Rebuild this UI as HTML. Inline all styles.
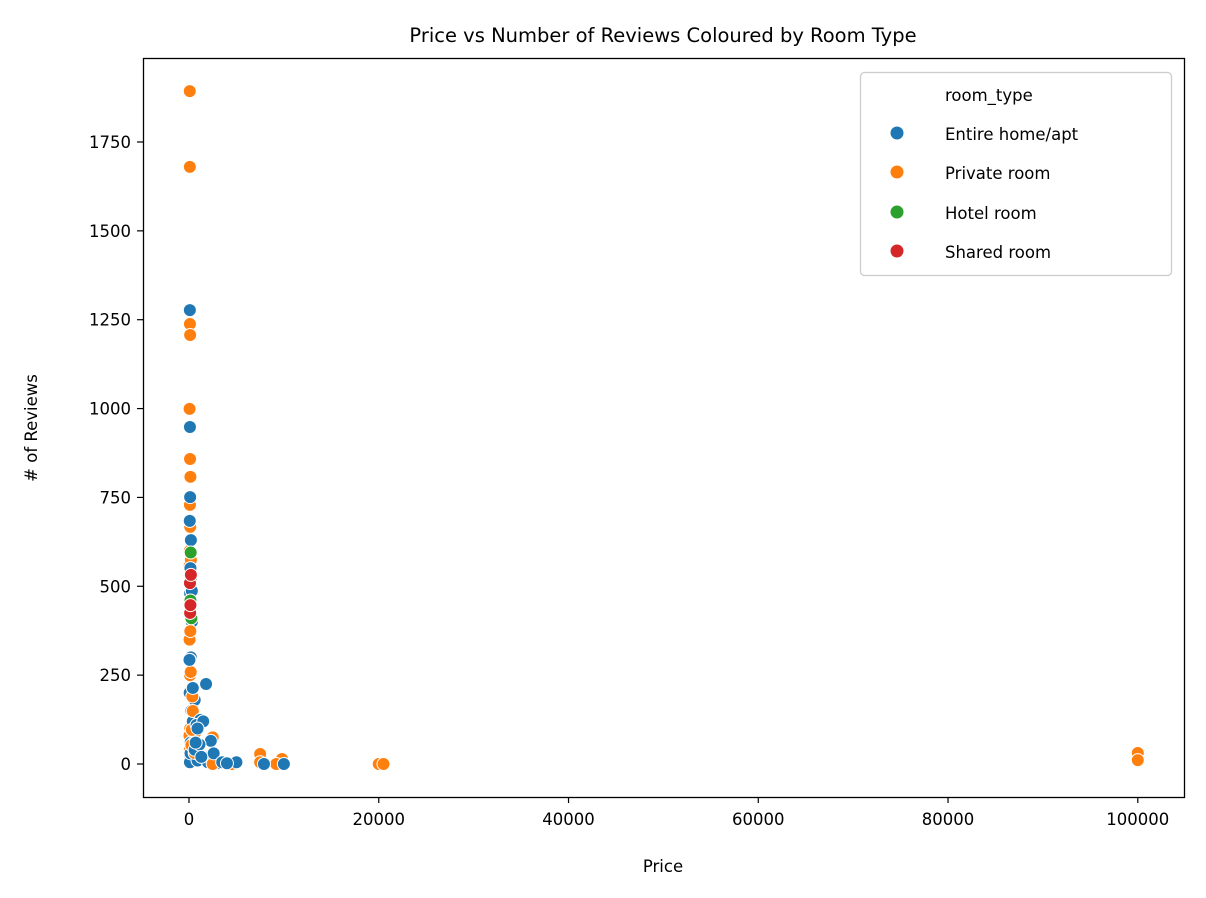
<!DOCTYPE html>
<html><head><meta charset="utf-8"><style>
body{margin:0;background:#fff;}
svg{display:block;font-family:"DejaVu Sans","Liberation Sans",sans-serif;}
</style></head><body>
<svg id="chart" width="1206" height="898">
<text x="663" y="42" font-size="19.5" text-anchor="middle">Price vs Number of Reviews Coloured by Room Type</text>
<g id="marks"></g>
<g id="axes"></g>
<rect x="143.5" y="58.5" width="1041" height="739" fill="none" stroke="#000" stroke-width="1.3"/>
<text x="663" y="872" font-size="16.5" text-anchor="middle">Price</text>
<text transform="translate(37,428) rotate(-90)" font-size="16.5" text-anchor="middle"># of Reviews</text>
<g>
<rect x="860.5" y="72.5" width="311" height="203" rx="4" fill="#fff" fill-opacity="0.8" stroke="#ccc" stroke-width="1.3"/>
<text x="945" y="101" font-size="16.5">room_type</text>
<circle cx="897" cy="133" r="6.5" fill="#1f77b4"/>
<text x="945" y="140" font-size="16.5">Entire home/apt</text>
<circle cx="897" cy="172" r="6.5" fill="#ff7f0e"/>
<text x="945" y="179" font-size="16.5">Private room</text>
<circle cx="897" cy="212" r="6.5" fill="#2ca02c"/>
<text x="945" y="219" font-size="16.5">Hotel room</text>
<circle cx="897" cy="251" r="6.5" fill="#d62728"/>
<text x="945" y="258" font-size="16.5">Shared room</text>
</g>
</svg>
<script>
const xTicks=[0,20000,40000,60000,80000,100000];
const yTicks=[0,250,500,750,1000,1250,1500,1750];
const prices=[100,120,80,150,90,200,60,300,110,70,250,130,400,50,180,90,140,220,100,160,500,800,1000,1200,1500,900,2000,3000,600,700,
 80,90,100,120,60,110,150,100,130,200,70,140,95,180,2500,7500,7500,9800,9200,20000,20500,100000,100000,2500,4500,300,250,600,400,350,
 90,100,120,80,200,150,300,1800,2300,1200,5000,7900,10000,50,600,1100,800,1500,400,2600,3500,4000,700,900,1300,
 150,200,120,250,180,
 100,120,150,200];
const reviews=[520,480,560,450,600,300,350,400,250,200,150,100,120,80,60,40,20,10,5,30,60,100,50,120,20,10,5,2,180,90,
 1893,1680,1238,1207,999,858,808,729,667,574,450,374,293,259,0,28,5,14,0,0,0,31,11,75,0,96,53,31,149,190,
 1277,948,751,684,630,551,487,225,65,124,5,0,0,293,40,55,110,120,214,30,5,2,60,100,20,
 460,523,425,410,595,
 509,425,447,532];
const types=['E','E','P','E','P','E','P','E','P','E','E','P','E','P','E','P','E','P','E','E','E','E','E','E','E','E','E','E','E','P',
 'P','P','P','P','P','P','P','P','P','P','P','P','P','P','P','P','P','P','P','P','P','P','P','P','P','P','P','P','P','P',
 'E','E','E','E','E','E','E','E','E','E','E','E','E','E','E','E','E','E','E','E','E','E','E','E','E',
 'H','H','H','H','H',
 'S','S','S','S'];
const colors={E:'#1f77b4',P:'#ff7f0e',H:'#2ca02c',S:'#d62728'};
const xs=v=>189+v*0.009488;
const ys=v=>764-v*0.35543;
const NS='http://www.w3.org/2000/svg';
const marks=document.getElementById('marks');
for(let i=0;i<prices.length;i++){
 const c=document.createElementNS(NS,'circle');
 c.setAttribute('cx',xs(prices[i]));c.setAttribute('cy',ys(reviews[i]));c.setAttribute('r',6.5);
 c.setAttribute('fill',colors[types[i]]);c.setAttribute('stroke','#fff');c.setAttribute('stroke-width',1);
 
 
 marks.appendChild(c);
}
const axes=document.getElementById('axes');
xTicks.forEach(t=>{
 const l=document.createElementNS(NS,'line');
 l.setAttribute('x1',xs(t));l.setAttribute('x2',xs(t));l.setAttribute('y1',797);l.setAttribute('y2',803);l.setAttribute('stroke','#000');l.setAttribute('stroke-width',1.2);
 
 
 axes.appendChild(l);
 const tx=document.createElementNS(NS,'text');
 tx.setAttribute('x',xs(t));tx.setAttribute('y',825);tx.setAttribute('font-size','16.5');tx.setAttribute('text-anchor','middle');tx.textContent=t;
 
 
 axes.appendChild(tx);
});
yTicks.forEach(t=>{
 const l=document.createElementNS(NS,'line');
 l.setAttribute('x1',137);l.setAttribute('x2',143);l.setAttribute('y1',ys(t));l.setAttribute('y2',ys(t));l.setAttribute('stroke','#000');l.setAttribute('stroke-width',1.2);
 
 
 axes.appendChild(l);
 const tx=document.createElementNS(NS,'text');
 tx.setAttribute('x',131);tx.setAttribute('y',ys(t)+6);tx.setAttribute('font-size','16.5');tx.setAttribute('text-anchor','end');tx.textContent=t;
 
 
 axes.appendChild(tx);
});
</script>
</body></html>
